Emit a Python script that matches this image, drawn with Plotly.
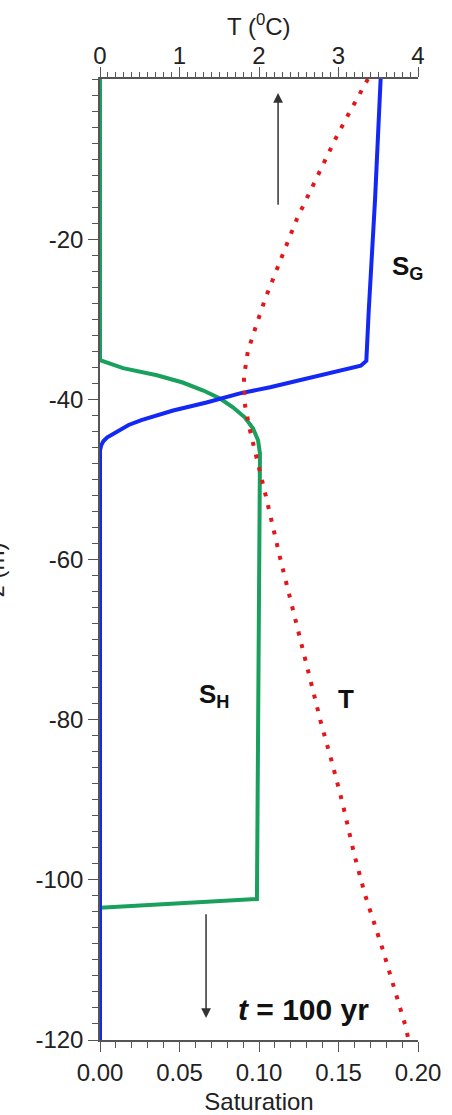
import plotly.graph_objects as go

# depth (m) and values
sh_depth = [0, -35.1, -36.1, -37.0, -37.9, -38.9, -39.9, -41.0, -42.25, -43.6, -45.1, -46.75,
            -50, -70, -90, -102.4, -103.5, -120]
sh_sat = [0, 0, 0.0145, 0.0358, 0.052, 0.065, 0.0755, 0.0836, 0.091, 0.0962, 0.0994, 0.1006,
          0.1005, 0.1, 0.099, 0.0987, 0, 0]

sg_depth = [0, -15, -29, -35.2, -35.8, -38.5, -39.25, -40.4, -41.4, -42.0, -42.6, -43.2,
            -43.9, -44.3, -44.75, -45.2, -45.7, -46.4, -120]
sg_sat = [0.1765, 0.173, 0.169, 0.1675, 0.164, 0.107, 0.088, 0.067, 0.046, 0.035, 0.026, 0.018,
          0.0122, 0.008, 0.0046, 0.0022, 0.0008, 0, 0]

t_depth = [0, -0.6, -4.5, -7.5, -10.75, -14.1, -17.4, -20.75, -24, -27.4, -30.6, -34,
           -37.25, -38.9, -40.5, -43.6, -47.25, -52.25, -60, -72, -75.5, -80.4, -85.4,
           -90.4, -96.9, -101.9, -108.5, -115.25, -118.5, -120]
t_temp = [3.37, 3.335, 3.12, 2.96, 2.80, 2.63, 2.48, 2.345, 2.21, 2.08, 1.97, 1.86,
          1.81, 1.81, 1.82, 1.88, 1.97, 2.09, 2.27, 2.57, 2.66, 2.78, 2.92,
          3.05, 3.20, 3.335, 3.55, 3.75, 3.85, 3.88]

depth_ticks = [-20, -40, -60, -80, -100, -120]
depth_labels = ["-20", "-40", "-60", "-80", "-100", "-120"]
sat_ticks = [0, 0.05, 0.1, 0.15, 0.2]
sat_labels = ["0.00", "0.05", "0.10", "0.15", "0.20"]

font = "Liberation Sans, Arial, sans-serif"
axcol = "#555555"

fig = go.Figure()
fig.add_trace(go.Scatter(x=sh_sat, y=sh_depth, mode="lines",
                         line=dict(color="#19a05c", width=4), name="S_H"))
fig.add_trace(go.Scatter(x=sg_sat, y=sg_depth, mode="lines",
                         line=dict(color="#1428f5", width=4), name="S_G"))
fig.add_trace(go.Scatter(x=t_temp, y=t_depth, mode="lines", xaxis="x2",
                         line=dict(color="#e3161c", width=4, dash="4px,9px"), name="T"))

fig.update_layout(
    width=452, height=1115,
    margin=dict(l=100, r=34, t=79, b=75),
    plot_bgcolor="white", paper_bgcolor="white",
    showlegend=False,
    font=dict(family=font, size=24, color="#222"),
    xaxis=dict(range=[0, 0.2], tickvals=sat_ticks, ticktext=sat_labels, automargin=False,
               showgrid=False, zeroline=False, showline=True, linecolor=axcol, linewidth=1.5,
               ticks="outside", ticklen=10, tickcolor=axcol, tickwidth=1.2,
               minor=dict(dtick=0.01, ticks="outside", ticklen=6, tickcolor=axcol, tickwidth=1.2),
               title=dict(text="Saturation", standoff=9, font=dict(size=24))),
    xaxis2=dict(range=[0, 4], overlaying="x", side="top", dtick=1, automargin=False,
                showgrid=False, zeroline=False, showline=True, linecolor=axcol, linewidth=1.5,
                ticks="outside", ticklen=10, tickcolor=axcol, tickwidth=1.2,
                ticklabelstandoff=-6,
                minor=dict(dtick=0.1, ticks="outside", ticklen=5, tickcolor=axcol, tickwidth=1.2)),
    yaxis=dict(range=[-120, 0], tickvals=depth_ticks, ticktext=depth_labels, automargin=False,
               showgrid=False, zeroline=False, showline=True, linecolor=axcol, linewidth=1.5,
               ticks="outside", ticklen=10, tickcolor=axcol, tickwidth=1.2,
               minor=dict(dtick=2, ticks="outside", ticklen=6, tickcolor=axcol, tickwidth=1.2)),
)

# top axis title
fig.add_annotation(text="T (<sup>0</sup>C)", xref="paper", yref="paper", x=0.5, y=1,
                   xanchor="center", yanchor="middle", yshift=54,
                   showarrow=False, font=dict(size=24))

# y title, mostly cut off at the left edge
fig.add_annotation(text="z (m)", xref="paper", yref="paper", x=-0.33, y=0.489,
                   xanchor="center", yanchor="middle",
                   textangle=-90, showarrow=False, font=dict(size=24))

# labels
lab = dict(family=font, size=26, color="#111")
fig.add_annotation(text="<b>S<sub>G</sub></b>", x=0.1937, y=-23.5, showarrow=False, font=lab)
fig.add_annotation(text="<b>S<sub>H</sub></b>", x=0.072, y=-77.0, showarrow=False, font=lab)
fig.add_annotation(text="<b>T</b>", x=0.1547, y=-77.4, showarrow=False, font=lab)
fig.add_annotation(text="<b><i>t</i> = 100 yr</b>", x=0.128, y=-116.25, showarrow=False,
                   font=dict(family=font, size=30, color="#111"))

# arrows
fig.add_annotation(x=0.112, y=-1.75, ax=0.112, ay=-15.9, axref="x", ayref="y",
                   showarrow=True, arrowhead=2, arrowsize=1.3, arrowwidth=1.5,
                   arrowcolor="#333", text="")
fig.add_annotation(x=0.0667, y=-117.25, ax=0.0667, ay=-104.1, axref="x", ayref="y",
                   showarrow=True, arrowhead=2, arrowsize=1.3, arrowwidth=1.5,
                   arrowcolor="#333", text="")

# drop the default page margin so the figure sits at the window's corner
fig.write_html("out.html", config={"displayModeBar": False},
               post_script="document.body.style.margin='0';")
